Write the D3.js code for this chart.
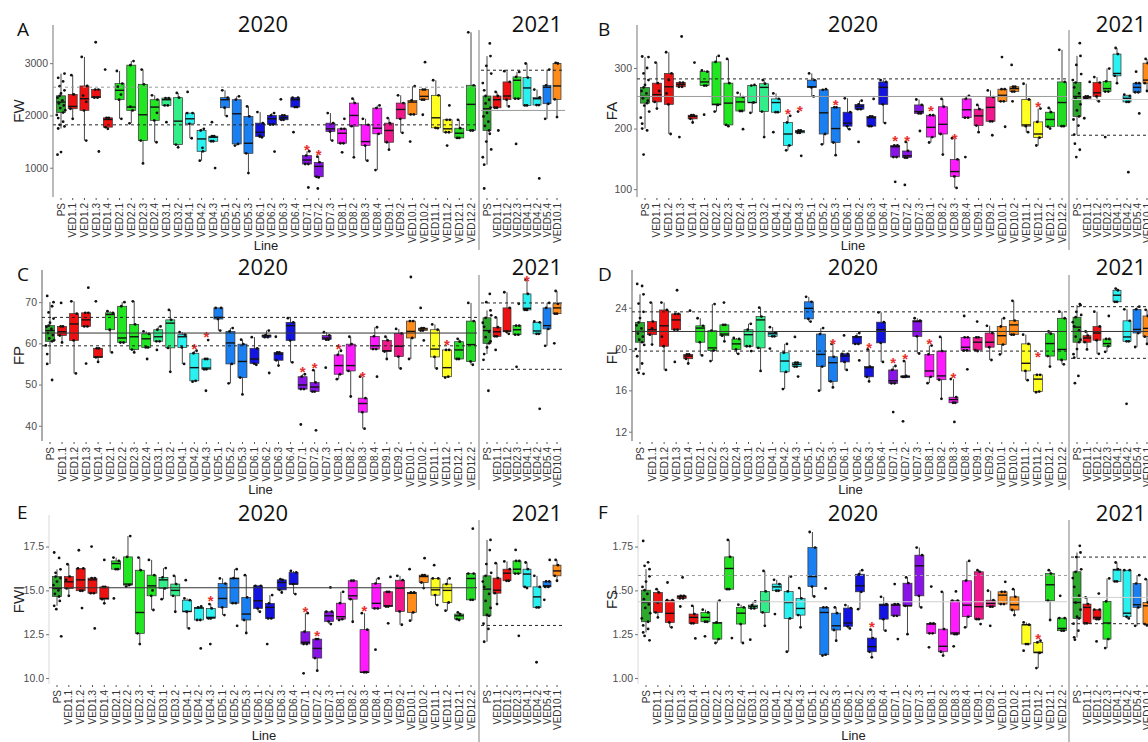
<!DOCTYPE html>
<html>
<head>
<meta charset="utf-8">
<script src="https://cdn.jsdelivr.net/npm/d3@7"></script>
<style>
  body { margin: 0; background: #fff; }
  svg { display: block; }
</style>
</head>
<body>
<svg id="chart" width="1148" height="742"></svg>
<script>
// categories
var lines2020 = ["PS","VED1.1","VED1.2","VED1.3","VED1.4","VED2.1","VED2.2","VED2.3","VED2.4","VED3.1","VED3.2",
  "VED4.1","VED4.2","VED4.3","VED5.1","VED5.2","VED5.3","VED6.1","VED6.2","VED6.3","VED6.4","VED7.1","VED7.2",
  "VED7.3","VED8.1","VED8.2","VED8.3","VED8.4","VED9.1","VED9.2","VED10.1","VED10.2","VED11.1","VED11.2","VED12.1","VED12.2"];
var lines2021 = ["PS","VED1.1","VED1.2","VED2.3","VED4.1","VED4.2","VED5.4","VED10.1"];

var groupColors = {PS:"#2ca82c", VED1:"#ee1111", VED2:"#22e622", VED3:"#33ee88", VED4:"#2af0f0", VED5:"#1a7ff0",
  VED6:"#1414e0", VED7:"#8a14e8", VED8:"#ff1aff", VED9:"#f0188c", VED10:"#ff8c1a", VED11:"#ffff22", VED12:"#22dd22"};

// ---- FW : [min, q1, median, q3, max] ----
var fw2020 = [[1750,2055,2256,2376,2800],[1936,2128,2173,2404,2770],[1519,2096,2320,2564,3120],[2340,2340,2353,2494,2494],
  [1744,1776,1923,1955,1955],[1936,2301,2481,2609,2850],[1850,2096,2160,2962,3040],[1083,1519,2013,2596,2878],
  [1487,1904,2160,2301,2385],[2192,2192,2301,2333,2333],[1391,1442,1891,2340,2430],[1564,1840,1936,2045,2045],
  [1135,1314,1551,1712,1744],[1506,1506,1583,1603,1603],[1987,2147,2301,2340,2481],[1423,1455,2032,2301,2365],
  [897,1276,1468,1981,2173],[1583,1596,1679,1853,2064],[1827,1827,1936,2000,2045],[1917,1917,1955,2000,2000],
  [2160,2160,2301,2340,2340],[1071,1071,1147,1231,1315],[814,827,1026,1103,1212],[1519,1693,1744,1853,2045],
  [1468,1468,1660,1744,1744],[1199,1795,2000,2237,2320],[1135,1423,1500,1821,1936],[955,1648,1756,2141,2192],
  [1346,1487,1712,1853,1949],[1667,1936,2115,2237,2385],[2019,2019,2256,2288,2558],[2301,2301,2365,2494,2494],
  [1756,1763,1955,2385,2673],[1679,1679,1744,1917,1917],[1570,1570,1660,1756,1917],[1712,1712,2212,2577,3590]];
var fw2021 = [[1058,1712,2128,2372,3135],[2147,2147,2301,2372,2449],[2173,2301,2372,2641,2846],[2320,2320,2673,2737,2833],
  [2192,2192,2526,2724,2994],[2199,2199,2320,2346,2494],[1936,2224,2540,2577,2878],[1968,2308,2564,2994,3006]];
var fwDots2020 = [[0,2720],[0,2650],[0,2560],[0,2480],[0,2420],[0,2340],[0,2290],[0,2230],[0,2190],[0,2140],[0,2100],
  [0,2010],[0,1950],[0,1880],[0,1820],[0,1790],[0,1300],[0,1250],[1,2400],[2,2380],[2,2260],[3,3400],[3,1310],[4,2878],
  [5,2550],[5,2400],[6,2170],[8,2050],[9,1872],[11,2449],[12,1380],[13,1872],[13,994],[17,1620],[18,1308],[19,2308],
  [20,1680],[21,622],[22,603],[24,1936],[24,1295],[30,1500],[31,3019],[31,2013],[33,2192],[33,1423]];
var fwDots2021 = [[0,3378],[0,2950],[0,2800],[0,2620],[0,2480],[0,2300],[0,2230],[0,2150],[0,2050],[0,1980],[0,1880],
  [0,1800],[0,1650],[0,1500],[0,1350],[0,1200],[0,603],[1,1712],[3,1455],[5,795]];
var fwStars2020 = [[21,1422],[22,1314]];
var fwStars2021 = [];
var fwRef2020 = [2540, 1820];
var fwRef2021 = [2865, 2096];
var fwTicks = [1000, 2000, 3000];

// ---- FA ----
var fa2020 = [[200,242,253,268,318],[233,244,256,275,309],[191,240,269,291,326],[269,269,273,276,276],[210,216,220,222,222],
  [271,271,277,294,296],[228,239,240,310,320],[204,206,242,275,315],[229,229,244,252,259],[226,243,243,271,272],
  [186,228,268,274,280],[227,227,243,249,258],[164,172,191,210,221],[193,193,195,197,197],[253,268,269,280,291],
  [174,191,226,264,265],[156,177,200,235,235],[199,204,209,227,250],[232,232,237,240,246],[204,204,218,220,220],
  [209,240,268,277,280],[153,153,170,172,172],[152,152,155,163,178],[225,225,228,239,248],[177,186,202,222,222],
  [157,191,207,236,249],[102,121,129,149,184],[218,218,231,249,254],[194,205,221,232,239],[212,212,235,252,263],
  [245,245,255,265,265],[261,261,266,269,269],[194,204,206,248,274],[172,185,191,211,233],[200,203,215,227,234],
  [204,204,243,277,330]];
var fa2021 = [[190,220,253,276,320],[250,250,252,253,253],[245,253,259,276,285],[261,261,266,278,299],
  [275,287,291,323,333],[244,244,250,254,256],[260,260,268,275,275],[262,275,280,308,315]];
var faDots2020 = [[0,319],[0,300],[0,291],[0,280],[0,272],[0,262],[0,258],[0,250],[0,246],[0,238],[0,228],[0,218],
  [0,208],[0,197],[0,157],[1,262],[2,280],[2,258],[3,352],[3,186],[4,309],[5,223],[8,199],[11,194],[13,228],[13,155],
  [18,178],[19,249],[21,112],[22,107],[23,196],[27,153],[29,189],[30,318],[30,203],[31,305],[31,245]];
var faDots2021 = [[0,341],[0,305],[0,290],[0,280],[0,268],[0,258],[0,250],[0,240],[0,230],[0,215],[0,205],[0,175],
  [0,165],[0,153],[1,277],[1,217],[3,186],[5,128],[6,294],[6,225]];
var faStars2020 = [[12,231],[13,236],[16,246],[21,186],[22,186],[24,236],[26,190],[33,242]];
var faStars2021 = [];
var faRef2020 = [282, 253];
var faRef2021 = [248, 189];
var faTicks = [100, 200, 300];

// ---- FP ----
var fp2020 = [[55.0,60.5,63.1,64.3,70.0],[60.2,61.9,62.8,64.1,64.1],[52.7,60.7,64.7,67.2,70.2],[64.1,64.1,65.7,67.4,67.4],
  [55.5,56.6,56.7,58.8,58.8],[57.8,63.3,67.0,67.4,67.8],[60.2,60.2,61.3,69.0,70.0],[57.8,58.5,61.6,64.6,70.2],
  [59.0,59.0,61.1,62.3,62.9],[60.5,60.5,61.6,63.3,64.1],[53.1,58.9,64.9,65.7,68.1],[55.0,59.0,61.6,62.1,62.7],
  [50.7,50.9,54.1,57.6,58.2],[53.7,53.7,54.0,56.2,56.2],[63.1,65.9,66.3,68.6,68.6],[50.3,55.0,60.1,62.9,63.7],
  [47.6,51.7,55.6,59.8,60.9],[54.8,55.1,56.2,58.8,61.5],[61.5,61.5,61.9,62.0,63.1],[54.6,55.9,57.4,57.8,57.8],
  [55.4,60.7,64.3,65.1,66.1],[48.9,48.9,49.9,51.9,52.5],[48.3,48.3,49.4,50.5,53.5],[60.9,60.9,61.3,61.9,62.7],
  [51.3,52.5,54.6,57.2,58.2],[47.1,53.3,54.6,59.8,61.6],[39.3,43.3,45.4,46.7,51.9],[58.6,58.6,59.4,61.7,63.9],
  [56.2,58.0,58.2,60.7,61.6],[53.9,56.8,59.3,62.4,63.5],[56.2,61.3,62.9,65.4,65.4],[63.1,63.1,63.5,63.7,63.7],
  [53.9,56.7,58.6,63.3,64.6],[51.7,51.9,54.1,58.4,58.4],[56.2,56.2,58.4,60.4,61.1],[54.8,55.6,59.7,65.4,69.8]];
var fp2021 = [[57.4,60.0,63.1,66.2,68.0],[61.7,61.7,62.8,63.9,66.3],[62.3,62.8,63.0,68.6,72.4],[62.1,62.1,63.3,64.3,64.3],
  [68.1,68.1,68.5,72.0,75.4],[62.3,62.3,63.0,65.1,65.3],[59.4,63.5,64.3,68.6,69.8],[67.2,67.2,68.6,69.6,72.7]];
var fpDots2020 = [[0,71.5],[0,69],[0,67.5],[0,66],[0,65],[0,64],[0,63.5],[0,62.5],[0,62],[0,61.2],[0,60.8],[0,59.5],
  [0,57.4],[0,51.1],[1,69.8],[3,73.5],[3,55.1],[4,70.2],[8,56.2],[9,58.4],[13,60.8],[13,48.5],[18,52.8],[19,61.6],
  [21,40.3],[22,38.9],[23,54.1],[27,51.9],[30,76.1],[31,68.6],[31,60.7]];
var fpDots2021 = [[0,72],[0,70],[0,66.8],[0,65],[0,64],[0,62.8],[0,61.5],[0,60.5],[0,59],[0,56],[0,48.5],[1,58.4],
  [3,69.6],[3,54.3],[5,44.1],[7,60.0]];
var fpStars2020 = [[12,59.6],[13,62.5],[21,54.1],[22,55.0],[24,59.6],[26,52.9],[33,60.5]];
var fpStars2021 = [[4,76.1]];
var fpRef2020 = [66.3, 62.5, 59.4];
var fpRef2021 = [69.8, 53.7];
var fpTicks = [40, 50, 60, 70];

// ---- FL ----
var fl2020 = [[18.0,20.66,21.7,22.57,25.3],[20.43,21.39,21.87,22.66,24.5],[17.98,20.27,22.25,23.78,24.5],[21.87,21.87,22.82,23.4,23.4],
  [18.6,19.06,19.32,19.48,19.48],[19.38,20.66,22.03,22.25,22.98],[18.84,19.86,20.11,21.77,24.35],[20.75,21.29,21.45,22.34,22.34],
  [19.54,19.96,20.5,20.97,21.07],[20.27,20.27,21.39,21.87,22.44],[17.88,20.11,22.82,23.14,24.0],[21.23,21.23,21.48,21.61,22.12],
  [16.13,17.79,18.84,19.64,20.5],[18.3,18.3,18.52,18.68,18.68],[22.66,22.92,23.94,24.57,25.05],[15.97,18.3,19.48,21.45,22.03],
  [16.29,16.87,18.68,19.25,20.5],[17.98,18.75,19.32,19.54,19.54],[20.5,20.5,21.17,21.23,21.55],[16.87,17.31,18.2,18.3,19.96],
  [18.75,20.6,21.87,22.6,23.55],[16.68,16.68,16.93,17.98,18.36],[17.3,17.3,17.34,17.4,18.84],[19.57,21.23,22.66,22.76,22.98],
  [16.7,17.31,17.88,19.48,20.34],[15.18,17.03,17.4,19.8,21.17],[14.8,14.8,15.11,15.34,17.09],[19.86,19.86,20.18,21.13,21.13],
  [19.8,19.9,20.66,21.13,21.13],[18.94,20.18,20.66,21.55,22.25],[19.48,20.43,21.29,22.18,22.98],[21.39,21.39,22.34,22.76,24.67],
  [16.99,17.88,18.62,20.5,21.39],[15.82,15.88,17.09,17.5,17.5],[18.3,19.32,20.53,21.48,21.7],[18.52,18.94,19.96,22.98,23.62]];
var fl2021 = [[19.16,20.66,22.12,23.08,24.25],[19.96,20.66,21.07,21.29,21.7],[19.54,20.85,21.55,22.18,23.62],[19.73,20.27,20.53,20.97,20.97],
  [24.57,24.57,25.21,25.69,25.85],[20.75,20.75,21.17,22.73,23.84],[20.2,21.55,21.9,23.84,24.1],[20.5,21.2,22.0,23.2,23.8]];
var flDots2020 = [[0,26.3],[0,26.1],[0,24.4],[0,23.6],[0,23],[0,22.3],[0,22],[0,21.5],[0,21.2],[0,20.9],[0,20.4],[0,20],
  [0,19.3],[0,18.6],[0,17.7],[0,17.6],[1,22],[2,21.2],[3,25.69],[3,18.75],[4,23.71],[7,24.5],[9,19.8],[11,20.05],[13,21.17],
  [13,17.34],[17,21.32],[18,18.9],[21,13.9],[22,13.0],[26,12.95],[27,23.2],[27,18.04],[28,22.66]];
var flDots2021 = [[0,24.35],[0,23.6],[0,23.3],[0,22.6],[0,22.2],[0,21.8],[0,21.2],[0,20.9],[0,20.0],[0,19.5],[0,17.4],
  [0,16.7],[3,23.2],[5,14.7]];
var flStars2020 = [[16,20.9],[19,20.5],[21,19.0],[22,19.38],[24,20.9],[26,17.57],[33,19.64]];
var flStars2021 = [];
var flRef2020 = [23.6, 21.7, 19.8];
var flRef2021 = [24.1, 21.7, 19.1];
var flTicks = [12, 16, 20, 24];

// ---- FWI ----
var fwi2020 = [[14.12,14.65,15.11,15.79,16.2],[14.69,15.11,15.49,15.79,16.49],[14.98,14.98,15.6,16.25,16.25],[14.84,14.84,15.6,15.7,15.7],
  [14.26,14.5,14.54,15.2,15.2],[16.21,16.21,16.53,16.68,16.87],[15.22,15.3,15.36,16.91,18.1],[11.94,12.55,13.74,16.15,16.87],
  [13.88,14.69,15.26,15.87,16.74],[14.5,15.11,15.6,15.74,16.27],[13.78,14.69,15.0,15.36,15.83],[12.83,13.78,13.8,14.44,14.54],
  [13.31,13.31,13.99,14.03,14.08],[13.4,13.4,13.46,13.97,14.22],[13.59,14.03,14.54,15.39,15.68],[14.27,14.27,15.68,15.7,16.21],
  [12.57,13.31,13.65,14.6,15.87],[13.78,13.97,14.41,15.26,15.26],[13.4,13.4,14.03,14.26,14.73],[14.88,15.03,15.45,15.6,15.64],
  [14.79,15.36,15.36,16.02,16.11],[11.94,11.94,12.04,12.64,13.7],[10.42,11.14,11.69,12.22,12.22],[13.08,13.23,13.55,13.78,13.78],
  [13.31,13.36,13.5,14.27,14.92],[13.21,14.5,14.69,15.55,15.55],[10.33,10.33,10.33,12.76,13.7],[13.97,13.97,14.26,15.39,15.68],
  [14.08,14.08,14.12,14.92,14.92],[13.04,13.8,15.13,15.58,15.83],[13.27,13.74,14.84,14.88,14.88],[15.13,15.45,15.79,15.87,15.87],
  [14.16,14.73,15.03,15.68,15.68],[13.84,14.31,15.0,15.36,15.68],[13.31,13.36,13.55,13.65,13.74],[14.46,14.46,15.68,15.96,15.96]];
var fwi2021 = [[12.07,13.55,15.07,15.83,17.88],[14.22,14.84,15.01,15.7,16.55],[15.55,15.55,15.98,16.21,16.65],[15.96,15.96,16.21,16.68,16.68],
  [15.13,15.2,15.93,16.21,16.59],[14.03,14.03,14.63,15.2,15.83],[15.2,15.2,15.26,15.51,15.51],[15.55,15.83,16.11,16.44,16.74]];
var fwiDots2020 = [[0,17.16],[0,16.85],[0,16.0],[0,15.7],[0,15.5],[0,15.3],[0,15.0],[0,14.8],[0,14.4],[0,13.93],[0,12.38],
  [1,15.6],[2,17.29],[2,13.99],[3,17.5],[3,12.83],[4,16.74],[5,14.54],[8,15.0],[11,15.58],[12,11.69],[13,11.94],[15,12.98],
  [18,11.94],[21,10.27],[23,15.17],[27,11.62],[28,15.77],[28,13.12],[30,16.21],[31,16.84],[32,16.44],[35,18.52]];
var fwiDots2021 = [[0,17.3],[0,16.5],[0,16.0],[0,15.5],[0,15.2],[0,14.8],[0,14.4],[0,14.0],[0,13.6],[0,13.1],[0,12.8],
  [3,17.31],[3,12.41],[5,10.9],[6,16.74],[6,14.46]];
var fwiStars2020 = [[13,14.65],[21,13.97],[22,12.64],[26,14.03]];
var fwiStars2021 = [];
var fwiRef2020 = [15.15];
var fwiRef2021 = [13.0];
var fwiTicks = [10.0, 12.5, 15.0, 17.5];

// ---- FS ----
var fs2020 = [[1.26,1.321,1.431,1.501,1.621],[1.346,1.374,1.435,1.488,1.507],[1.289,1.317,1.369,1.444,1.444],[1.454,1.454,1.465,1.469,1.469],
  [1.312,1.312,1.346,1.365,1.412],[1.321,1.321,1.346,1.374,1.39],[1.2,1.222,1.314,1.317,1.441],[1.507,1.507,1.625,1.691,1.788],
  [1.2,1.308,1.37,1.403,1.418],[1.397,1.397,1.408,1.416,1.437],[1.298,1.374,1.437,1.494,1.611],[1.498,1.498,1.52,1.536,1.56],
  [1.15,1.34,1.431,1.494,1.579],[1.289,1.359,1.397,1.454,1.513],[1.465,1.522,1.579,1.744,1.833],[1.128,1.133,1.374,1.403,1.403],
  [1.213,1.274,1.298,1.37,1.403],[1.283,1.295,1.314,1.399,1.416],[1.393,1.492,1.526,1.592,1.615],[1.118,1.15,1.179,1.228,1.276],
  [1.27,1.336,1.416,1.422,1.463],[1.355,1.355,1.416,1.422,1.422],[1.25,1.412,1.412,1.541,1.574],[1.403,1.469,1.64,1.701,1.744],
  [1.255,1.255,1.308,1.312,1.312],[1.128,1.15,1.181,1.279,1.492],[1.25,1.25,1.257,1.441,1.441],[1.289,1.35,1.416,1.555,1.668],
  [1.336,1.336,1.407,1.606,1.615],[1.407,1.407,1.426,1.444,1.498],[1.422,1.422,1.473,1.492,1.492],[1.359,1.388,1.418,1.463,1.507],
  [1.194,1.194,1.304,1.304,1.317],[1.057,1.143,1.147,1.203,1.213],[1.331,1.441,1.532,1.596,1.615],[1.27,1.27,1.283,1.342,1.342]];
var fs2021 = [[1.232,1.34,1.431,1.606,1.716],[1.312,1.312,1.403,1.422,1.46],[1.336,1.336,1.346,1.39,1.39],[1.171,1.222,1.314,1.437,1.568],
  [1.551,1.551,1.617,1.621,1.659],[1.34,1.35,1.37,1.615,1.615],[1.298,1.403,1.418,1.539,1.587],[1.30,1.308,1.412,1.431,1.564]];
var fsDots2020 = [[0,1.782],[0,1.66],[0,1.64],[0,1.58],[0,1.55],[0,1.52],[0,1.48],[0,1.45],[0,1.42],[0,1.40],[0,1.37],
  [0,1.34],[0,1.30],[0,1.28],[0,1.24],[0,1.215],[1,1.43],[2,1.545],[3,1.574],[3,1.408],[4,1.226],[5,1.238],[7,1.228],
  [9,1.219],[11,1.365],[15,1.511],[21,1.536],[21,1.222],[24,1.522],[24,1.175],[26,1.494],[26,1.181],[28,1.308],[29,1.298],
  [30,1.549],[32,1.156],[35,1.469]];
var fsDots2021 = [[0,1.754],[0,1.69],[0,1.62],[0,1.57],[0,1.52],[0,1.47],[0,1.43],[0,1.39],[0,1.35],[0,1.31],[0,1.27],
  [0,1.219],[2,1.482],[2,1.209]];
var fsStars2020 = [[19,1.314],[33,1.247]];
var fsStars2021 = [];
var fsRef2020 = [1.585, 1.435];
var fsRef2021 = [1.69, 1.46, 1.31];
var fsTicks = [1.00, 1.25, 1.50, 1.75];

// ---- layout ----
var rows = [
  {top: 25, bottom: 197, title: 32, letter: 36, xlab: 250, sepTop: 30, sepBottom: 250},
  {top: 270, bottom: 441, title: 275, letter: 281, xlab: 494, sepTop: 275, sepBottom: 490},
  {top: 515, bottom: 684, title: 521, letter: 519, xlab: 740, sepTop: 520, sepBottom: 742}
];
var cols = [
  {end2020: 471, sep: 479, range2021: [487, 557], title2020: 263, title2021: 537, letterX: 17, ylabX: 19},
  {end2020: 1062, sep: 1069, range2021: [1077, 1147], title2020: 853, title2021: 1121, letterX: 598, ylabX: 612}
];
var refStyles = {
  gd: {stroke: "#9a9a9a", dash: "3,3"},
  kd: {stroke: "#222", dash: "3,3"},
  ks: {stroke: "#333", dash: null},
  gs: {stroke: "#999", dash: null},
  ls: {stroke: "#cfcfcf", dash: null}
};

var panels = [
  {letter: "A", ylab: "FW", row: 0, col: 0, axisX: 53, axisColor: "#aaa", domain: [440, 3730], ticks: fwTicks, fmt: d3.format("d"),
   b20: fw2020, b21: fw2021, d20: fwDots2020, d21: fwDots2021, s20: fwStars2020, s21: fwStars2021,
   r20: fwRef2020, r21: fwRef2021, rs20: ["gd","kd"], rs21: ["kd","gs"]},
  {letter: "B", ylab: "FA", row: 0, col: 1, axisX: 637, axisColor: "#aaa", domain: [87, 371], ticks: faTicks, fmt: d3.format("d"),
   b20: fa2020, b21: fa2021, d20: faDots2020, d21: faDots2021, s20: faStars2020, s21: faStars2021,
   r20: faRef2020, r21: faRef2021, rs20: ["kd","gs"], rs21: ["ls","kd"]},
  {letter: "C", ylab: "FP", row: 1, col: 0, axisX: 42, axisColor: "#999", domain: [36.3, 77.8], ticks: fpTicks, fmt: d3.format("d"),
   b20: fp2020, b21: fp2021, d20: fpDots2020, d21: fpDots2021, s20: fpStars2020, s21: fpStars2021,
   r20: fpRef2020, r21: fpRef2021, rs20: ["kd","ks","kd"], rs21: ["kd","kd"]},
  {letter: "D", ylab: "FL", row: 1, col: 1, axisX: 632, axisColor: "#999", domain: [11.1, 27.65], ticks: flTicks, fmt: d3.format("d"),
   b20: fl2020, b21: fl2021, d20: flDots2020, d21: flDots2021, s20: flStars2020, s21: flStars2021,
   r20: flRef2020, r21: flRef2021, rs20: ["kd","ks","kd"], rs21: ["kd","ks","kd"]},
  {letter: "E", ylab: "FWI", row: 2, col: 0, axisX: 49, axisColor: "#e8e8e8", domain: [9.66, 19.3], ticks: fwiTicks, fmt: d3.format(".1f"),
   b20: fwi2020, b21: fwi2021, d20: fwiDots2020, d21: fwiDots2021, s20: fwiStars2020, s21: fwiStars2021,
   r20: fwiRef2020, r21: fwiRef2021, rs20: ["ks"], rs21: ["kd"]},
  {letter: "F", ylab: "FS", row: 2, col: 1, axisX: 638, axisColor: "#e8e8e8", domain: [0.966, 1.93], ticks: fsTicks, fmt: d3.format(".2f"),
   b20: fs2020, b21: fs2021, d20: fsDots2020, d21: fsDots2021, s20: fsStars2020, s21: fsStars2021,
   r20: fsRef2020, r21: fsRef2021, rs20: ["gd","ls"], rs21: ["kd","ls","kd"]}
];

var svg = d3.select("#chart");
var jit = [-2, 1.5, -1, 2.5, 0, -2.5, 1, -1.5, 2, -0.5, 3, -3];

function colorOf(name) {
  return name === "PS" ? groupColors.PS : groupColors[name.split(".")[0]];
}

function drawBoxes(g, x, y, cats, boxes, dots, stars, bw) {
  var bg = g.append("g");
  cats.forEach(function(name, i) {
    var s = boxes[i], cx = x(name);
    bg.append("line").attr("x1", cx).attr("x2", cx).attr("y1", y(s[0])).attr("y2", y(s[4]))
      .attr("stroke", "#333").attr("stroke-width", 0.9);
    bg.append("rect").attr("x", cx - bw / 2).attr("width", bw)
      .attr("y", y(s[3])).attr("height", Math.max(1.5, y(s[1]) - y(s[3])))
      .attr("fill", colorOf(name)).attr("stroke", "#333").attr("stroke-width", 0.7);
    bg.append("line").attr("x1", cx - bw / 2).attr("x2", cx + bw / 2).attr("y1", y(s[2])).attr("y2", y(s[2]))
      .attr("stroke", "#111").attr("stroke-width", 1.4);
  });
  // jittered points: box hinges / whisker ends + extra points
  var pts = [];
  cats.forEach(function(name, i) {
    var s = boxes[i];
    [s[0], s[1], s[3], s[4]].forEach(function(v) { pts.push([i, v]); });
  });
  dots.forEach(function(d) { pts.push(d); });
  g.append("g").selectAll("circle").data(pts).join("circle")
    .attr("cx", function(d, k) { return x(cats[d[0]]) + jit[k % jit.length] * (d[0] === 0 ? 1.4 : 0.9); })
    .attr("cy", function(d) { return y(d[1]); })
    .attr("r", 1.4).attr("fill", "#111");
  g.append("g").selectAll("text").data(stars).join("text")
    .attr("x", function(d) { return x(cats[d[0]]); })
    .attr("y", function(d) { return y(d[1]); })
    .attr("dy", "0.6em").attr("text-anchor", "middle")
    .attr("font-family", "Liberation Sans, Arial, sans-serif").attr("font-size", 15).attr("font-weight", "bold")
    .attr("fill", "#e8302c").text("*");
}

function refLines(g, y, vals, styles, x1, x2) {
  vals.forEach(function(v, i) {
    var st = refStyles[styles[i]];
    g.append("line").attr("x1", x1).attr("x2", x2).attr("y1", y(v)).attr("y2", y(v))
      .attr("stroke", st.stroke).attr("stroke-width", 1).attr("stroke-dasharray", st.dash);
  });
}

function xLabels(g, x, cats, row) {
  cats.forEach(function(name) {
    var cx = x(name);
    g.append("line").attr("x1", cx).attr("x2", cx).attr("y1", row.bottom + 1).attr("y2", row.bottom + 3)
      .attr("stroke", "#555").attr("stroke-width", 1);
    g.append("text").attr("transform", "translate(" + (cx + 3.5) + "," + (row.bottom + 6) + ") rotate(-90)")
      .attr("text-anchor", "end").attr("font-family", "Liberation Sans, Arial, sans-serif")
      .attr("font-size", 10).attr("fill", "#333").text(name);
  });
}

panels.forEach(function(p) {
  var row = rows[p.row], col = cols[p.col];
  var g = svg.append("g");
  var y = d3.scaleLinear().domain(p.domain).range([row.bottom, row.top]);
  var x20 = d3.scalePoint().domain(lines2020).range([p.axisX + 8, col.end2020]);
  var x21 = d3.scalePoint().domain(lines2021).range(col.range2021);

  // y axis
  g.append("line").attr("x1", p.axisX).attr("x2", p.axisX).attr("y1", row.top).attr("y2", row.bottom)
    .attr("stroke", p.axisColor).attr("stroke-width", 1.6);
  var ax = g.append("g").attr("transform", "translate(" + p.axisX + ",0)")
    .call(d3.axisLeft(y).tickValues(p.ticks).tickFormat(p.fmt).tickSize(3).tickPadding(2));
  ax.select(".domain").remove();
  ax.selectAll(".tick line").attr("stroke", "#777");
  ax.selectAll(".tick text").attr("fill", "#4d4d4d").attr("font-size", 10.5)
    .attr("font-family", "Liberation Sans, Arial, sans-serif");

  // 2021 separator
  g.append("line").attr("x1", col.sep).attr("x2", col.sep).attr("y1", row.sepTop).attr("y2", row.sepBottom)
    .attr("stroke", "#aaa").attr("stroke-width", 1.5);

  drawBoxes(g, x20, y, lines2020, p.b20, p.d20, p.s20, 9);
  drawBoxes(g, x21, y, lines2021, p.b21, p.d21, p.s21, 8);
  refLines(g, y, p.r20, p.rs20, p.axisX, col.sep - 2);
  refLines(g, y, p.r21, p.rs21, col.sep + 2, col.range2021[1] + 8);

  xLabels(g, x20, lines2020, row);
  xLabels(g, x21, lines2021, row);

  // texts
  g.append("text").attr("x", col.title2020).attr("y", row.title).attr("text-anchor", "middle")
    .attr("font-family", "Open Sans, sans-serif").attr("font-size", 22).attr("fill", "#111").text("2020");
  g.append("text").attr("x", col.title2021).attr("y", row.title).attr("text-anchor", "middle")
    .attr("font-family", "Open Sans, sans-serif").attr("font-size", 22).attr("fill", "#111").text("2021");
  g.append("text").attr("x", col.letterX).attr("y", row.letter)
    .attr("font-family", "Open Sans, sans-serif").attr("font-size", 19).attr("fill", "#111").text(p.letter);
  g.append("text").attr("transform", "translate(" + col.ylabX + "," + ((row.top + row.bottom) / 2) + ") rotate(-90)")
    .attr("text-anchor", "middle").attr("dy", "0.35em")
    .attr("font-family", "Liberation Sans, Arial, sans-serif").attr("font-size", 15).attr("fill", "#222").text(p.ylab);
  g.append("text").attr("x", (p.axisX + col.sep) / 2).attr("y", row.xlab).attr("text-anchor", "middle")
    .attr("font-family", "Liberation Sans, Arial, sans-serif").attr("font-size", 13).attr("fill", "#222").text("Line");
});
</script>
</body>
</html>
